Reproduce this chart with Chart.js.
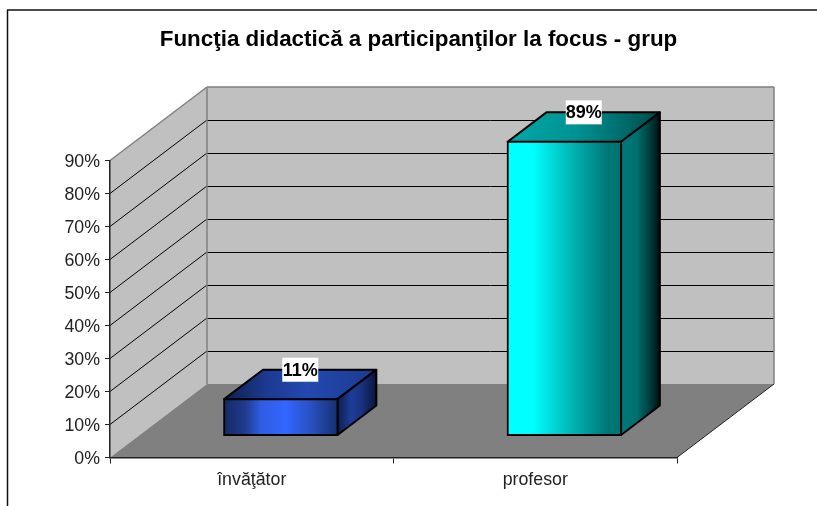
<!DOCTYPE html>
<html>
<head>
<meta charset="utf-8">
<title>Funcţia didactică</title>
<script src="https://cdn.jsdelivr.net/npm/chart.js@4"></script>
<style>
  html, body { margin: 0; padding: 0; background: #fff; }
  #wrap { width: 817px; height: 506px; }
</style>
</head>
<body>
<div id="wrap"><canvas id="chart"></canvas></div>
<script>
const categories = ["învăţător", "profesor"];
const percentages = [11, 89];
const tickStep = 10;
const axisMax = 90;
const chartTitle = "Funcţia didactică a participanţilor la focus - grup";

// oblique projection of the old 3D chart: vector from front of floor to back wall
const DEPTH_X = 97;
const DEPTH_Y = -73.5;
const BAR_START = 0.3;   // bar front sits this far into the floor
const BAR_DEPTH = 0.4;   // bar takes this share of the floor
const BAR_SHARE = 0.4;

const frontStops = [
  [["#152a66", 0], ["#1e3a8c", 0.18], ["#2f5ce0", 0.32], ["#3366ff", 0.54], ["#2850c0", 0.77], ["#16306e", 1]],
  [["#00ffff", 0], ["#00ffff", 0.22], ["#00d8d8", 0.4], ["#00a8a8", 0.63], ["#007878", 0.88], ["#007474", 1]]
];
const topStops = [
  [["#10204f", 0], ["#1c3a90", 0.28], ["#2448b0", 0.55], ["#1c3a90", 1]],
  [["#00a8a8", 0], ["#009292", 0.45], ["#006c6c", 0.75], ["#004a4a", 1]]
];
const sideStops = [
  [["#0d1d4c", 0], ["#1f3c9a", 0.35], ["#1a3484", 0.6], ["#0a1538", 1]],
  [["#007878", 0], ["#007070", 0.4], ["#003c3c", 0.75], ["#000f0f", 1]]
];

function hGradient(ctx, x0, x1, stops) {
  const g = ctx.createLinearGradient(x0, 0, x1, 0);
  stops.forEach(s => g.addColorStop(s[1], s[0]));
  return g;
}

function polygon(ctx, pts, fill, stroke, lw) {
  ctx.beginPath();
  pts.forEach((p, i) => i ? ctx.lineTo(p[0], p[1]) : ctx.moveTo(p[0], p[1]));
  ctx.closePath();
  if (fill) { ctx.fillStyle = fill; ctx.fill(); }
  if (stroke) { ctx.strokeStyle = stroke; ctx.lineWidth = lw; ctx.stroke(); }
}

function line(ctx, x0, y0, x1, y1, color, lw) {
  ctx.beginPath();
  ctx.moveTo(x0, y0);
  ctx.lineTo(x1, y1);
  ctx.strokeStyle = color;
  ctx.lineWidth = lw;
  ctx.stroke();
}

const box3d = {
  id: "box3d",
  afterLayout(chart) {
    // title sits right of the canvas middle in the reference
    chart.titleBlock.left = 0;
    chart.titleBlock.right = 837;
  },
  beforeDraw(chart) {
    const { ctx, chartArea: a, scales: { y } } = chart;
    const yTop = y.getPixelForValue(axisMax);
    const yBase = y.getPixelForValue(0);
    ctx.save();
    // outer frame of the pasted chart, cut off at right and bottom
    line(ctx, 7.5, 506, 7.5, 10, "#111", 1.5);
    line(ctx, 7, 10, 817, 10, "#111", 1.5);

    // side wall, back wall, floor
    polygon(ctx, [[a.left, yBase], [a.left + DEPTH_X, yBase + DEPTH_Y], [a.left + DEPTH_X, yTop + DEPTH_Y], [a.left, yTop]], "#c0c0c0");
    polygon(ctx, [[a.left + DEPTH_X, yBase + DEPTH_Y], [a.right + DEPTH_X, yBase + DEPTH_Y], [a.right + DEPTH_X, yTop + DEPTH_Y], [a.left + DEPTH_X, yTop + DEPTH_Y]], "#c0c0c0");
    polygon(ctx, [[a.left, yBase], [a.right, yBase], [a.right + DEPTH_X, yBase + DEPTH_Y], [a.left + DEPTH_X, yBase + DEPTH_Y]], "#808080");

    for (let v = tickStep; v < axisMax; v += tickStep) {
      const py = y.getPixelForValue(v);
      line(ctx, a.left, py, a.left + DEPTH_X, py + DEPTH_Y, "#000", 1);
      line(ctx, a.left + DEPTH_X, Math.round(py + DEPTH_Y) + 0.5, a.right + DEPTH_X, Math.round(py + DEPTH_Y) + 0.5, "#000", 1);
    }

    // grey wall edges
    line(ctx, a.left, yTop, a.left + DEPTH_X, yTop + DEPTH_Y, "#808080", 1.5);
    line(ctx, a.left + DEPTH_X, yTop + DEPTH_Y, a.right + DEPTH_X, yTop + DEPTH_Y, "#808080", 1.5);
    line(ctx, a.left + DEPTH_X, yTop + DEPTH_Y, a.left + DEPTH_X, yBase + DEPTH_Y, "#808080", 1.5);
    line(ctx, a.right + DEPTH_X, yTop + DEPTH_Y, a.right + DEPTH_X, yBase + DEPTH_Y, "#808080", 1.5);
    line(ctx, a.right, yBase, a.right + DEPTH_X, yBase + DEPTH_Y, "#222", 1);
    ctx.restore();
  },
  beforeDatasetDraw(chart, args) {
    const { ctx } = chart;
    const meta = chart.getDatasetMeta(args.index);
    const sx = DEPTH_X * BAR_START, sy = DEPTH_Y * BAR_START;
    const dx = DEPTH_X * BAR_DEPTH, dy = DEPTH_Y * BAR_DEPTH;
    ctx.save();
    ctx.translate(sx, sy);
    ctx.lineJoin = "round";
    meta.data.forEach((bar, i) => {
      const l = bar.x - bar.width / 2, r = bar.x + bar.width / 2;
      polygon(ctx, [[l, bar.y], [r, bar.y], [r + dx, bar.y + dy], [l + dx, bar.y + dy]],
        hGradient(ctx, l, r + dx, topStops[i]), "#000", 2);
      polygon(ctx, [[r, bar.y], [r + dx, bar.y + dy], [r + dx, bar.base + dy], [r, bar.base]],
        hGradient(ctx, r, r + dx, sideStops[i]), "#000", 2);
    });
  },
  afterDatasetDraw(chart) {
    chart.ctx.restore();
  },
  afterDatasetsDraw(chart) {
    const { ctx } = chart;
    const meta = chart.getDatasetMeta(0);
    ctx.save();
    ctx.font = "bold 18px 'Liberation Sans', Arial, sans-serif";
    ctx.textAlign = "center";
    ctx.textBaseline = "middle";
    meta.data.forEach((bar, i) => {
      const cx = bar.x + DEPTH_X * (BAR_START + BAR_DEPTH / 2);
      const cy = bar.y + DEPTH_Y * (BAR_START + BAR_DEPTH);
      ctx.fillStyle = "#fff";
      ctx.fillRect(cx - 18, cy - 12, 36, 24);
      ctx.fillStyle = "#000";
      ctx.fillText(percentages[i] + "%", cx, cy + 1);
    });
    ctx.restore();
  }
};

new Chart(document.getElementById("chart"), {
  type: "bar",
  data: {
    labels: categories,
    datasets: [{
      data: percentages,
      barPercentage: BAR_SHARE,
      categoryPercentage: 1,
      borderColor: "#000",
      borderWidth: 2,
      borderSkipped: false,
      inflateAmount: 1,
      clip: false,
      backgroundColor: c => {
        // gradient spans the bar, worked out from the x scale because the element has no size yet
        const x = c.chart.scales.x;
        if (!x || !x.width) return "#00ffff";
        const half = x.width / categories.length * BAR_SHARE / 2;
        const mid = x.getPixelForValue(c.dataIndex);
        return hGradient(c.chart.ctx, mid - half, mid + half, frontStops[c.dataIndex]);
      }
    }]
  },
  plugins: [box3d],
  options: {
    responsive: true,
    maintainAspectRatio: false,
    animation: false,
    layout: { padding: { left: 0, right: 140, top: 0, bottom: 0 } },
    plugins: {
      legend: { display: false },
      tooltip: { enabled: false },
      title: {
        display: true,
        text: chartTitle,
        color: "#000",
        font: { family: "'Liberation Sans', Arial, sans-serif", size: 22.4, weight: "bold" },
        padding: { top: 26, bottom: 107.6 }
      }
    },
    scales: {
      x: {
        afterFit: s => { s.height = 48.5; },
        grid: { offset: true, drawOnChartArea: false, tickLength: 6, color: "#222" },
        border: { color: "#222", width: 1.5 },
        ticks: { color: "#222", padding: 6, font: { family: "'Liberation Sans', Arial, sans-serif", size: 17.8 } }
      },
      y: {
        min: 0,
        max: axisMax,
        afterFit: s => { s.width = 110; },
        grid: { drawOnChartArea: false, tickLength: 5, color: "#222" },
        border: { color: "#222", width: 1.5 },
        ticks: {
          stepSize: tickStep,
          color: "#222",
          padding: 5,
          labelOffset: 1.5,
          font: { family: "'Liberation Sans', Arial, sans-serif", size: 17.8 },
          callback: v => v + "%"
        }
      }
    }
  }
});
</script>
</body>
</html>
